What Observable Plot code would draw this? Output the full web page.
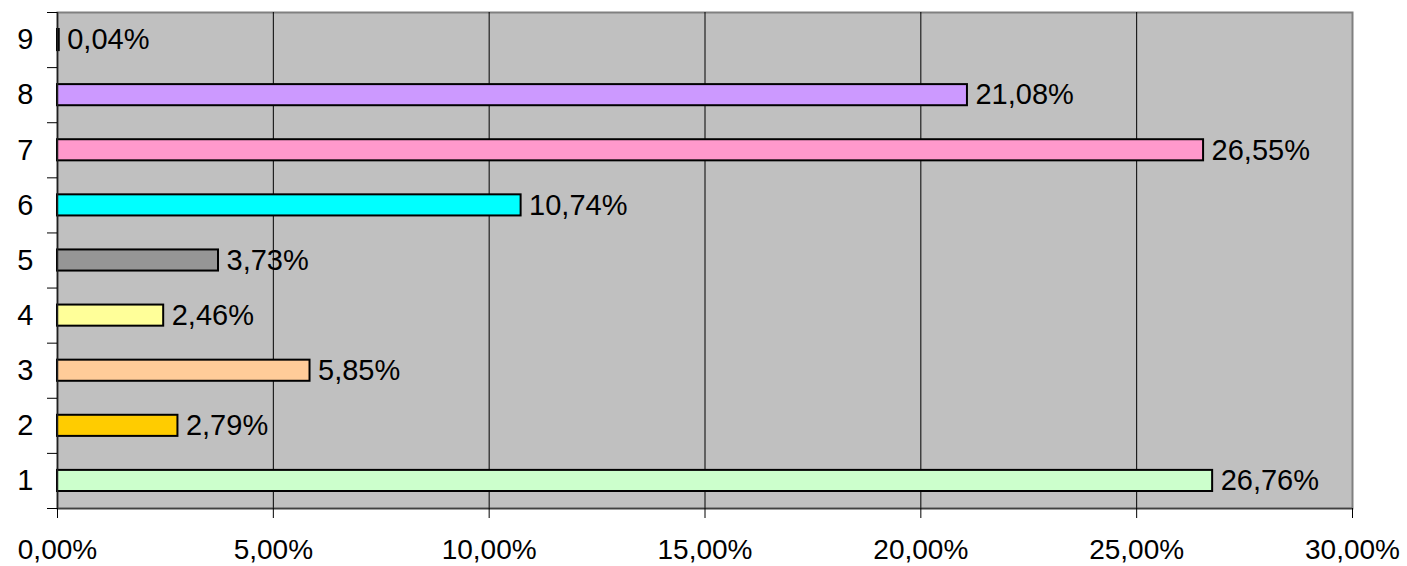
<!DOCTYPE html>
<html>
<head>
<meta charset="utf-8">
<script src="https://cdn.jsdelivr.net/npm/d3@7"></script>
<script src="https://cdn.jsdelivr.net/npm/@observablehq/plot@0.6"></script>
<style>
  html, body { margin: 0; padding: 0; background: #fff; }
</style>
</head>
<body>
<div id="chart"></div>
<script>
const categories = ["1", "2", "3", "4", "5", "6", "7", "8", "9"];
const values = [26.76, 2.79, 5.85, 2.46, 3.73, 10.74, 26.55, 21.08, 0.04];
const colors = ["#CCFFCC", "#FFCC00", "#FFCC99", "#FFFF99", "#969696", "#00FFFF", "#FF99CC", "#CC99FF", "#000000"];
const xTicks = [0, 5, 10, 15, 20, 25, 30];
const gridValues = [5, 10, 15, 20, 25];

const locale = d3.formatLocale({decimal: ",", thousands: ".", grouping: [3], currency: ["", "€"]});
const fmt = locale.format(".2f");
const pct = v => fmt(v) + "%";

const data = categories.map((c, i) => ({cat: c, idx: i, value: values[i], color: colors[i]}));

const FONT = "Liberation Sans, Arial, sans-serif";
const FS = 29;

const chart = Plot.plot({
  width: 1407,
  height: 566,
  marginLeft: 57,
  marginRight: 55,
  marginTop: 12,
  marginBottom: 58,
  style: {fontFamily: FONT, fontSize: FS + "px", color: "black", background: "white"},
  x: {domain: [0, 30]},
  y: {domain: [0, categories.length]},
  marks: [
    Plot.frame({fill: "#C0C0C0", stroke: "#808080", strokeWidth: 2}),
    Plot.ruleX(gridValues, {stroke: "black", strokeWidth: 1}),
    Plot.rectX(data, {
      x1: 0,
      x2: "value",
      y1: "idx",
      y2: d => d.idx + 1,
      insetTop: 17,
      insetBottom: 17,
      fill: "color",
      stroke: "black",
      strokeWidth: 2
    }),
    Plot.text(data, {
      x: "value",
      y: d => d.idx + 0.5,
      text: d => pct(d.value),
      textAnchor: "start",
      dx: 8,
      fontSize: FS,
      fill: "black"
    }),
    Plot.ruleX([0], {stroke: "#202020", strokeWidth: 1.5}),
    Plot.ruleY([0], {stroke: "#404040", strokeWidth: 1.5}),
    Plot.axisX({
      ticks: xTicks,
      tickSize: 10,
      tickPadding: 21,
      tickFormat: pct,
      fontSize: 28,
      label: null,
      stroke: "black"
    }),
    Plot.axisY({
      ticks: d3.range(0, categories.length + 1),
      tickSize: 10,
      tickFormat: () => "",
      label: null,
      stroke: "black"
    }),
    Plot.axisY({
      ticks: categories.map((c, i) => i + 0.5),
      tickSize: 0,
      tickPadding: 24,
      tickFormat: v => categories[Math.floor(v)],
      fontSize: FS,
      label: null
    })
  ]
});

document.getElementById("chart").appendChild(chart);
</script>
</body>
</html>
